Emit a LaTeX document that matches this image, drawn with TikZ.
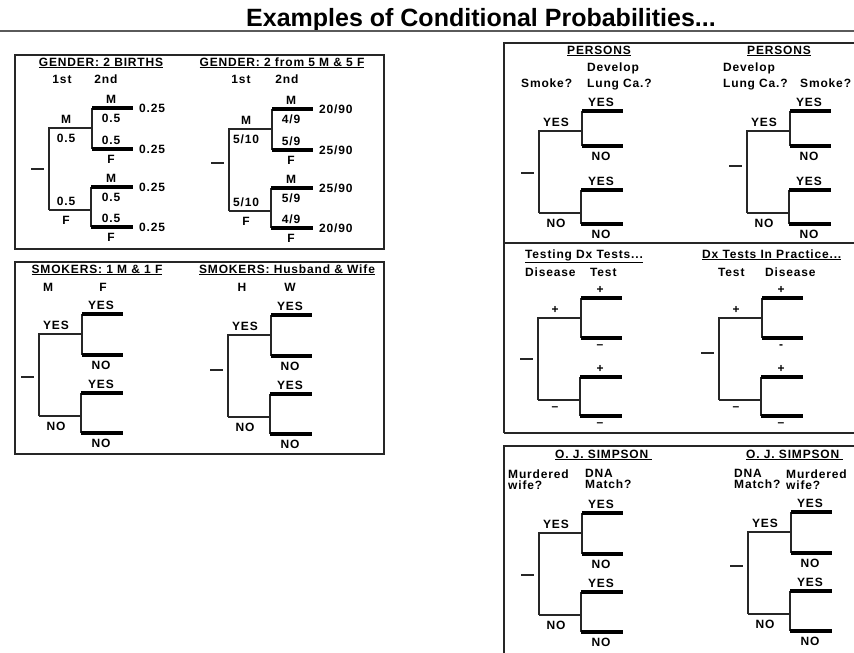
\documentclass[tikz,border=0pt]{standalone}
\usepackage{fontspec}
\setmainfont{Liberation Sans}
\newfontfamily\lblfont{Liberation Sans}[LetterSpace=7]
\definecolor{ink}{HTML}{262626}
\definecolor{rulegray}{HTML}{5A5A5A}

\tikzset{
  limb/.style={ink,line width=1.1pt},
  leaf/.style={black,line width=3.4pt},
  frame/.style={ink,line width=1.2pt},
  lab/.style={font=\lblfont\fontsize{12}{13}\selectfont\bfseries,inner sep=2pt},
  hdr/.style={lab,inner sep=0pt,anchor=base west},
  twoline/.style={lab,inner sep=0pt,anchor=north west,align=left}
}

% one two-level tree: name, x of first split, y of upper branch, y of the stub, length of a second split
\newcommand{\branchtree}[5]{%
  \coordinate (#1-s0) at (#2-18,#4);
  \coordinate (#1-s1) at (#2-5,#4);
  \coordinate (#1-u) at (#2,#3);
  \coordinate (#1-d) at (#2,#3+82);
  \coordinate (#1-uj) at (#2+43,#3);
  \coordinate (#1-dj) at (#2+41,#3+82);
  \coordinate (#1-yy0) at (#2+43,#3-20);
  \coordinate (#1-yy1) at (#2+84,#3-20);
  \coordinate (#1-yn0) at (#2+43,#3-20+#5);
  \coordinate (#1-yn1) at (#2+84,#3-20+#5);
  \coordinate (#1-ny0) at (#2+42,#3+59);
  \coordinate (#1-ny1) at (#2+84,#3+59);
  \coordinate (#1-nn0) at (#2+42,#3+58+#5);
  \coordinate (#1-nn1) at (#2+84,#3+58+#5);
  \coordinate (#1-um) at (#2+17,#3);
  \coordinate (#1-dm) at (#2+17,#3+82);
  \coordinate (#1-yy) at (#2+62,#3-20);
  \coordinate (#1-yn) at (#2+62,#3-20+#5);
  \coordinate (#1-ny) at (#2+62,#3+59);
  \coordinate (#1-nn) at (#2+62,#3+58+#5);
  \draw[limb] (#1-s0) -- (#1-s1);
  \draw[limb] (#1-uj) -- (#1-u) -- (#1-d);
  \draw[limb,line width=1.8pt] (#1-d) -- (#1-dj);
  \draw[limb] (#1-yy0) -- (#1-yn0);
  \draw[limb] (#1-ny0) -- (#1-nn0);
  \draw[leaf] (#1-yy0) -- (#1-yy1);
  \draw[leaf] (#1-yn0) -- (#1-yn1);
  \draw[leaf] (#1-ny0) -- (#1-ny1);
  \draw[leaf,line width=4pt] (#1-nn0) -- (#1-nn1);
}
\newcommand{\mainlabels}[5]{%
  \node[lab,above=2pt] (#1-ua) at (#1-um) {#2};
  \node[lab,below=4pt] (#1-ub) at (#1-um) {#3};
  \node[lab,above=2pt] (#1-da) at (#1-dm) {#4};
  \node[lab,below=4pt] (#1-db) at (#1-dm) {#5};
}
\newcommand{\leaflabels}[9]{%
  \node[lab,above=2pt] (#1-yya) at (#1-yy) {#2};
  \node[lab,below=4pt] (#1-yyb) at (#1-yy) {#3};
  \node[lab,above=2pt] (#1-yna) at (#1-yn) {#4};
  \node[lab,below=4pt] (#1-ynb) at (#1-yn) {#5};
  \node[lab,above=2pt] (#1-nya) at (#1-ny) {#6};
  \node[lab,below=4pt] (#1-nyb) at (#1-ny) {#7};
  \node[lab,above=2pt] (#1-nna) at (#1-nn) {#8};
  \node[lab,below=4pt] (#1-nnb) at (#1-nn) {#9};
}

\begin{document}
\begin{tikzpicture}[x=1pt,y=-1pt]
  \useasboundingbox (0,0) rectangle (854,653);
  % title and rule
  \node[font=\fontsize{25}{28}\selectfont\bfseries,anchor=base] (title) at (481,27) {Examples of Conditional Probabilities...};
  \draw[rulegray,line width=2pt] (0,31) -- (854,31);

  % frames
  \draw[frame] (15,55) rectangle (384,249);
  \draw[frame] (15,262) rectangle (384,454);
  \draw[frame] (504,433) -- (504,43) -- (860,43);
  \draw[frame,line width=1.8pt] (504,243) -- (860,243);
  \draw[frame,line width=1.8pt] (504,433) -- (860,433);
  \draw[frame] (860,446) -- (504,446) -- (504,660);

  % gender
  \node[hdr,anchor=base] (g1-head) at (101,66) {\underline{GENDER: 2 BIRTHS}};
  \node[hdr,anchor=base] (g2-head) at (282,66) {\underline{GENDER: 2 from 5 M \& 5 F}};
  \node[hdr,anchor=base] (g1-c1) at (62,83) {1st};
  \node[hdr,anchor=base] (g1-c2) at (106,83) {2nd};
  \node[hdr,anchor=base] (g2-c1) at (241,83) {1st};
  \node[hdr,anchor=base] (g2-c2) at (287,83) {2nd};
  \branchtree{g1}{49}{128}{169}{41}
  \mainlabels{g1}{M}{0.5}{0.5}{F}
  \leaflabels{g1}{M}{0.5}{0.5}{F}{M}{0.5}{0.5}{F}
  \node[lab,right=4pt] (g1-v1) at (g1-yy1) {0.25};
  \node[lab,right=4pt] (g1-v2) at (g1-yn1) {0.25};
  \node[lab,right=4pt] (g1-v3) at (g1-ny1) {0.25};
  \node[lab,right=4pt] (g1-v4) at (g1-nn1) {0.25};
  \branchtree{g2}{229}{129}{163}{41}
  \mainlabels{g2}{M}{5/10}{5/10}{F}
  \leaflabels{g2}{M}{4/9}{5/9}{F}{M}{5/9}{4/9}{F}
  \node[lab,right=4pt] (g2-v1) at (g2-yy1) {20/90};
  \node[lab,right=4pt] (g2-v2) at (g2-yn1) {25/90};
  \node[lab,right=4pt] (g2-v3) at (g2-ny1) {25/90};
  \node[lab,right=4pt] (g2-v4) at (g2-nn1) {20/90};

  % smokers
  \node[hdr,anchor=base] (s1-head) at (97,273) {\underline{SMOKERS: 1 M \& 1 F}};
  \node[hdr,anchor=base] (s2-head) at (287,273) {\underline{SMOKERS: Husband \& Wife}};
  \node[hdr,anchor=base] (s1-c1) at (48,291) {M};
  \node[hdr,anchor=base] (s1-c2) at (103,291) {F};
  \node[hdr,anchor=base] (s2-c1) at (242,291) {H};
  \node[hdr,anchor=base] (s2-c2) at (290,291) {W};
  \branchtree{s1}{39}{334}{377}{41}
  \mainlabels{s1}{YES}{}{}{NO}
  \leaflabels{s1}{YES}{}{}{NO}{YES}{}{}{NO}
  \branchtree{s2}{228}{335}{370}{41}
  \mainlabels{s2}{YES}{}{}{NO}
  \leaflabels{s2}{YES}{}{}{NO}{YES}{}{}{NO}

  % persons
  \node[hdr] (p1-head) at (567,54) {\underline{PERSONS}};
  \node[hdr] (p1-c1) at (521,87) {Smoke?};
  \node[twoline] (p1-c2) at (587,62.5) {Develop\\[3pt]Lung Ca.?};
  \node[hdr] (p2-head) at (747,54) {\underline{PERSONS}};
  \node[twoline] (p2-c1) at (723,62.5) {Develop\\[3pt]Lung Ca.?};
  \node[hdr] (p2-c2) at (800,87) {Smoke?};
  \branchtree{p1}{539}{131}{173}{35}
  \mainlabels{p1}{YES}{}{}{NO}
  \leaflabels{p1}{YES}{}{}{NO}{YES}{}{}{NO}
  \branchtree{p2}{747}{131}{166}{35}
  \mainlabels{p2}{YES}{}{}{NO}
  \leaflabels{p2}{YES}{}{}{NO}{YES}{}{}{NO}

  % diagnostic tests
  \node[hdr] (t1-head) at (525,258) {\underline{Testing Dx Tests...}};
  \node[hdr] (t1-c1) at (525,276) {Disease};
  \node[hdr] (t1-c2) at (590,276) {Test};
  \node[hdr] (t2-head) at (702,258) {\underline{Dx Tests In Practice...}};
  \node[hdr] (t2-c1) at (718,276) {Test};
  \node[hdr] (t2-c2) at (765,276) {Disease};
  \branchtree{t1}{538}{318}{359}{40}
  \mainlabels{t1}{+}{}{}{–}
  \leaflabels{t1}{+}{}{}{–}{+}{}{}{–}
  \branchtree{t2}{719}{318}{353}{40}
  \mainlabels{t2}{+}{}{}{–}
  \leaflabels{t2}{+}{}{}{-}{+}{}{}{–}

  % o. j. simpson
  \node[hdr] (o1-head) at (555,458) {\underline{O. J. SIMPSON\ }};
  \node[twoline] (o1-c1) at (508,469.5) {Murdered\\[-2pt]wife?};
  \node[twoline] (o1-c2) at (585,469.5) {DNA\\[-2pt]Match?};
  \node[hdr] (o2-head) at (746,458) {\underline{O. J. SIMPSON\ }};
  \node[twoline] (o2-c1) at (734,469.5) {DNA\\[-2pt]Match?};
  \node[twoline] (o2-c2) at (786,469.5) {Murdered\\[-2pt]wife?};
  \branchtree{o1}{539}{533}{575}{41}
  \mainlabels{o1}{YES}{}{}{NO}
  \leaflabels{o1}{YES}{}{}{NO}{YES}{}{}{NO}
  \branchtree{o2}{748}{532}{566}{41}
  \mainlabels{o2}{YES}{}{}{NO}
  \leaflabels{o2}{YES}{}{}{NO}{YES}{}{}{NO}
\end{tikzpicture}
\end{document}
